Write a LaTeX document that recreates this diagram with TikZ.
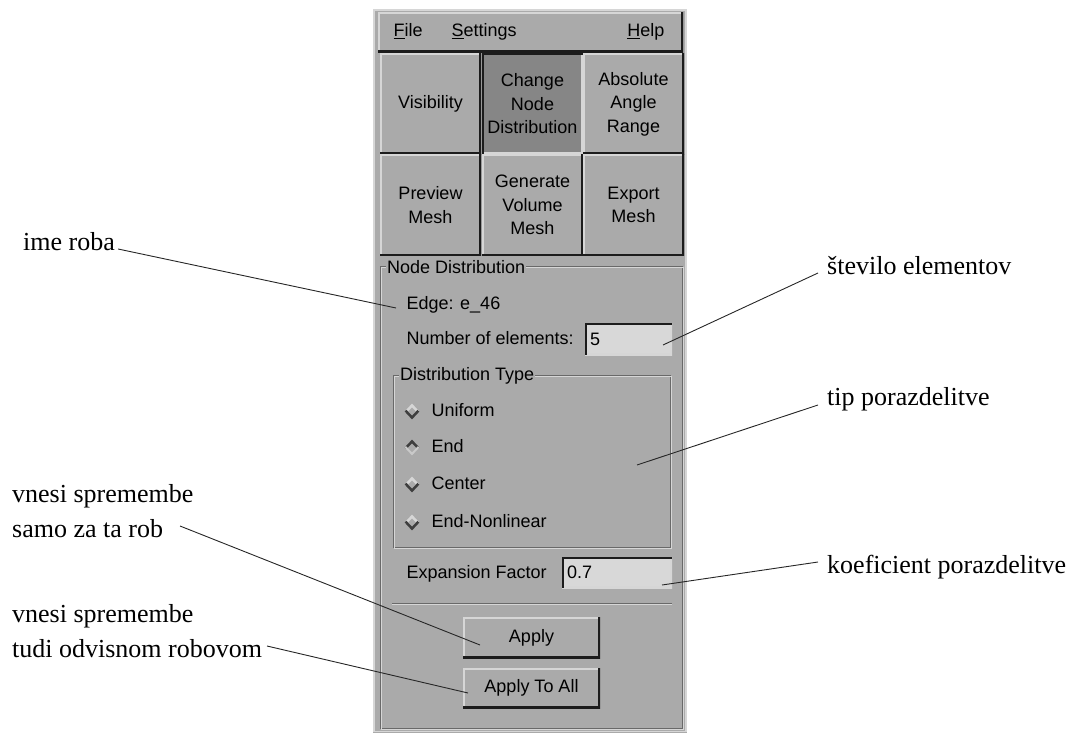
\documentclass[tikz,border=0pt]{standalone}
\usepackage{fontspec}
\setmainfont{Liberation Serif}
\setsansfont{Liberation Sans}
\usetikzlibrary{shapes.geometric, positioning, calc}

\definecolor{guibg}{RGB}{170,170,170}
\definecolor{guisel}{RGB}{134,134,134}
\definecolor{guilight}{RGB}{214,214,214}
\definecolor{guidark}{RGB}{28,28,28}
\definecolor{entrybg}{RGB}{216,216,216}
\definecolor{groove}{RGB}{105,105,105}

\begin{document}
\begin{tikzpicture}[
    x=1pt, y=-1pt,
    gui/.style={font=\sffamily\fontsize{18}{23.5}\selectfont},
    note/.style={font=\fontsize{26}{35}\selectfont, inner sep=0pt, anchor=base west, align=left},
    raised/.style={fill=guibg, inner sep=0pt, align=center, gui, path picture={
        \draw[guilight, line width=4pt] (path picture bounding box.south west) |- (path picture bounding box.north east);
        \draw[guidark, line width=4pt] (path picture bounding box.south west) -| (path picture bounding box.north east);}},
    sunken/.style={inner sep=0pt, align=center, gui, path picture={
        \draw[guilight, line width=4pt] (path picture bounding box.south west) -| (path picture bounding box.north east);
        \draw[guidark, line width=4pt] (path picture bounding box.south west) |- (path picture bounding box.north east);}},
    btn/.style={raised, minimum width=101pt, minimum height=101pt},
    entry/.style={sunken, fill=entrybg, align=left, inner xsep=5pt},
    radio/.style={diamond, minimum width=15pt, minimum height=16pt, inner sep=0pt, path picture={
        \draw[guilight, line width=5pt] (path picture bounding box.west) -- (path picture bounding box.north) -- (path picture bounding box.east);
        \draw[guidark!85, line width=5pt] (path picture bounding box.west) -- (path picture bounding box.south) -- (path picture bounding box.east);}},
    radioon/.style={diamond, minimum width=15pt, minimum height=16pt, inner sep=0pt, path picture={
        \draw[guidark!85, line width=5pt] (path picture bounding box.west) -- (path picture bounding box.north) -- (path picture bounding box.east);
        \draw[guilight!70!guibg, line width=4pt] (path picture bounding box.west) -- (path picture bounding box.south) -- (path picture bounding box.east);}},
    title/.style={gui, fill=guibg, inner xsep=1pt, inner ysep=0pt, anchor=base west},
    conn/.style={draw, line width=0.9pt, black!85}
]
\useasboundingbox (0,0) rectangle (1074,733);

% window
\fill[guibg] (373,9) rectangle (687,733);
\draw[guilight, line width=1.5pt] (374,10) rectangle (686,731.5);

% menu bar
\node[raised, minimum width=305pt, minimum height=40pt] (menubar) at (530.5,32.5) {};
\node[gui, anchor=base west] (mfile) at (390,37) {\underline{F}ile};
\node[gui, anchor=base west] (mset) at (448,37) {\underline{S}ettings};
\node[gui, anchor=base east] (mhelp) at (668,37) {\underline{H}elp};

% buttons
\node[btn] (vis) at (430.5,104) {Visibility};
\node[btn, sunken, fill=guisel] (chg) at (532.5,104) {Change\\Node\\Distribution};
\node[btn] (ang) at (633.5,104) {Absolute\\Angle\\Range};
\node[btn] (prev) at (430.5,205) {Preview\\Mesh};
\node[btn] (gen) at (532.5,205) {Generate\\Volume\\Mesh};
\node[btn] (exp) at (633.5,205) {Export\\Mesh};

% node distribution frame
\draw[groove] (380,266) rectangle (682,728);
\draw[guilight] (381,267) rectangle (683,729);
\node[title] (ndtitle) at (386,273) {Node Distribution};

\node[gui, anchor=base west] (edge) at (403,309) {Edge: e\_46};
\node[gui, anchor=base west] (numtxt) at (403,344) {Number of elements:};
\node[entry, minimum height=32pt, text width=77pt] (nument) at (628.5,339) {5};

% distribution type
\draw[groove] (393,375) rectangle (670,547);
\draw[guilight] (394,376) rectangle (671,548);
\node[title] (dttitle) at (399,380) {Distribution Type};

\node[radio] (runi) at (412,411.5) {};
\node[gui, anchor=base west] (tuni) at (428,416) {Uniform};
\node[radioon] (rend) at (412,447.5) {};
\node[gui, anchor=base west] (tend) at (428,452) {End};
\node[radio] (rcen) at (412,484.5) {};
\node[gui, anchor=base west] (tcen) at (428,489) {Center};
\node[radio] (rnon) at (412,522.5) {};
\node[gui, anchor=base west] (tnon) at (428,527) {End-Nonlinear};

\node[gui, anchor=base west] (exptxt) at (403,578) {Expansion Factor};
\node[entry, minimum height=31pt, text width=100pt] (expent) at (617,572.5) {0.7};

\draw[groove] (392,603) -- (672,603);
\draw[guilight] (392,604) -- (672,604);

\node[raised, minimum width=137pt, minimum height=41pt] (apply) at (531.5,637.5) {Apply};
\node[raised, minimum width=137pt, minimum height=40pt] (applyall) at (531.5,688) {Apply To All};

% labels
\coordinate (edgept) at (396,308);
\coordinate (numpt) at (663,345);
\coordinate (typept) at (637,465);
\coordinate (exppt) at (662,585);
\coordinate (applypt) at (480,645);
\coordinate (allpt) at (468,693);

\node[note] (imelab) at (23,250) {ime roba};
\node[note] (stevlab) at (827,274) {število elementov};
\node[note] (tiplab) at (827,405) {tip porazdelitve};
\node[note] (koeflab) at (827,573) {koeficient porazdelitve};
\node[note] (samolab) at (12,537) {vnesi spremembe\\samo za ta rob};
\node[note] (tudilab) at (12,657) {vnesi spremembe\\tudi odvisnom robovom};

\draw[conn] ([shift={(3,-1)}]imelab.base east) -- (edgept);
\draw[conn] ([shift={(-9,-1)}]stevlab.base west) -- (numpt);
\draw[conn] ([shift={(-9,0)}]tiplab.base west) -- (typept);
\draw[conn] ([shift={(-9,-11)}]koeflab.base west) -- (exppt);
\draw[conn] ([shift={(168,-11)}]samolab.base west) -- (applypt);
\draw[conn] ([shift={(255,-11)}]tudilab.base west) -- (allpt);

\end{tikzpicture}
\end{document}
